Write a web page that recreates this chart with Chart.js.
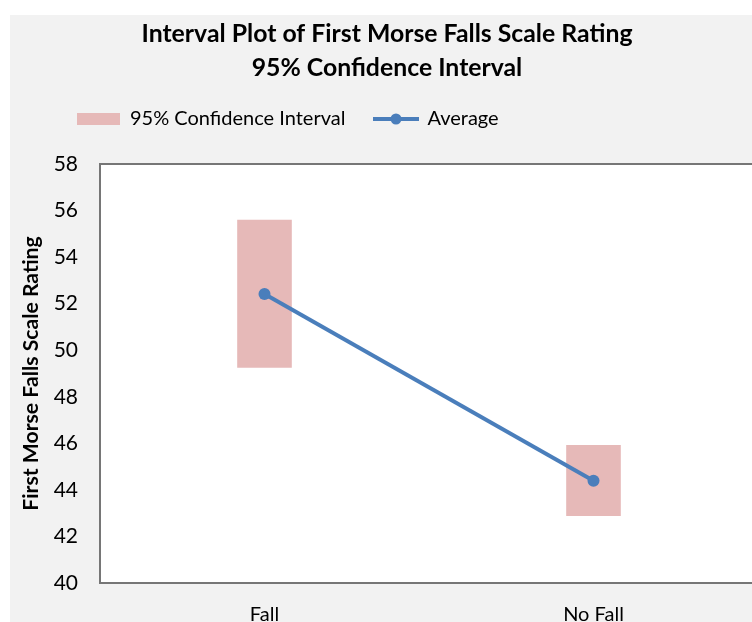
<!DOCTYPE html>
<html>
<head>
<meta charset="utf-8">
<script src="https://cdn.jsdelivr.net/npm/chart.js@4.4.1/dist/chart.umd.min.js"></script>
<style>
  html, body { margin: 0; padding: 0; background: #ffffff; overflow: hidden; width: 752px; height: 622px; }
  .chart-box { position: absolute; left: 10px; top: 15px; width: 742px; height: 607px; overflow: hidden; background: #f2f2f2; }
  .chart-canvas { display: block; }
</style>
</head>
<body>
<div class="chart-box"><canvas class="chart-canvas" width="754" height="652"></canvas></div>
<script>
      // data
      const groups = ["Fall", "No Fall"];
      const ciLow = [49.25, 42.88];
      const ciHigh = [55.61, 45.93];
      const averages = [52.42, 44.39];
      const yTicks = [40, 42, 44, 46, 48, 50, 52, 54, 56, 58];

      const pink = "#e6b9b8";
      const blue = "#4a7ebb";

      // legend marker for the line series: line with a dot
      const lineMarker = document.createElement("canvas");
      lineMarker.width = 46;
      lineMarker.height = 14;
      const lm = lineMarker.getContext("2d");
      lm.strokeStyle = blue;
      lm.lineWidth = 4;
      lm.beginPath();
      lm.moveTo(0, 7);
      lm.lineTo(46, 7);
      lm.stroke();
      lm.fillStyle = blue;
      lm.beginPath();
      lm.arc(23, 7, 5.5, 0, Math.PI * 2);
      lm.fill();

      // white plot area with a gray frame
      const plotFrame = {
        id: "plotFrame",
        beforeDatasetsDraw(chart) {
          const { ctx, chartArea: a } = chart;
          ctx.save();
          ctx.fillStyle = "#ffffff";
          ctx.fillRect(a.left, a.top, a.right - a.left, a.bottom - a.top);
          ctx.restore();
        },
        afterDatasetsDraw(chart) {
          const { ctx, chartArea: a } = chart;
          ctx.save();
          ctx.strokeStyle = "#767676";
          ctx.lineWidth = 2;
          ctx.strokeRect(a.left, a.top, a.right - a.left, a.bottom - a.top);
          ctx.restore();
        },
        afterLayout(chart) {
          // move legend to where it sits in the original
          chart.legend.left += 38;
          chart.legend.top -= 25;
        },
      };

      const ctx = document.querySelector(".chart-canvas").getContext("2d");

      new Chart(ctx, {
        data: {
          labels: groups,
          datasets: [
            {
              type: "bar",
              label: "95% Confidence Interval",
              data: groups.map((g, i) => [ciLow[i], ciHigh[i]]),
              backgroundColor: pink,
              borderWidth: 0,
              barPercentage: 0.166,
              categoryPercentage: 1,
              order: 1,
            },
            {
              type: "line",
              label: "Average",
              data: averages,
              borderColor: blue,
              backgroundColor: blue,
              borderWidth: 4,
              pointRadius: 6,
              pointHoverRadius: 6,
              pointBackgroundColor: blue,
              pointBorderWidth: 0,
              tension: 0,
              order: 0,
            },
          ],
        },
        options: {
          responsive: false,
          animation: false,
          layout: { padding: { left: 0, right: 0, top: 0, bottom: 20 } },
          plugins: {
            tooltip: { enabled: false },
            title: {
              display: true,
              text: ["Interval Plot of First Morse Falls Scale Rating", "95% Confidence Interval"],
              color: "#000000",
              font: { family: "Lato", size: 24.8, weight: "bold", lineHeight: 34 / 24.8 },
              padding: { top: 2, bottom: 20 },
            },
            legend: {
              display: true,
              position: "top",
              align: "start",
              labels: {
                color: "#000000",
                font: { family: "Lato", size: 20 },
                usePointStyle: true,
                pointStyleWidth: 43,
                boxHeight: 12,
                padding: 29,
                generateLabels(chart) {
                  const items = Chart.defaults.plugins.legend.labels.generateLabels(chart);
                  items.sort((a, b) => a.datasetIndex - b.datasetIndex);
                  items.forEach((it) => {
                    it.lineWidth = 0;
                    if (it.datasetIndex === 0) {
                      it.pointStyle = "rect";
                      it.fillStyle = pink;
                    } else {
                      it.pointStyle = lineMarker;
                    }
                  });
                  return items;
                },
              },
            },
          },
          scales: {
            x: {
              offset: true,
              grid: { display: false, drawTicks: false },
              border: { display: false },
              ticks: {
                color: "#000000",
                font: { family: "Lato", size: 20 },
                padding: 20,
              },
            },
            y: {
              min: yTicks[0],
              max: yTicks[yTicks.length - 1],
              afterFit(scale) {
                scale.width = 90;
              },
              afterBuildTicks(scale) {
                scale.ticks = yTicks.map((v) => ({ value: v }));
              },
              grid: { display: false, drawTicks: false },
              border: { display: false },
              ticks: {
                color: "#000000",
                font: { family: "Lato", size: 21 },
                padding: 22,
              },
              title: {
                display: true,
                text: "First Morse Falls Scale Rating",
                color: "#000000",
                font: { family: "Lato", size: 21.2, weight: "bold" },
                padding: { top: 8, bottom: 0 },
              },
            },
          },
        },
        plugins: [plotFrame],
      });
</script>
</body>
</html>
